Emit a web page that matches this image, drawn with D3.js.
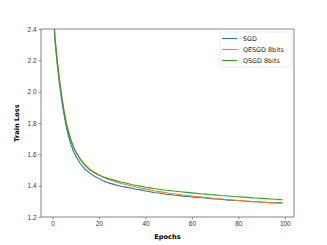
<!DOCTYPE html>
<html>
<head>
<meta charset="utf-8">
<script src="https://cdn.jsdelivr.net/npm/d3@7"></script>
<style>
  body { margin: 0; background: #fff; }
  svg { font-family: "DejaVu Sans", sans-serif; }
</style>
</head>
<body>
<div id="chart"></div>
<script>
// epochs sampled from the curves
const epochs = [0, 1, 2, 3, 4, 5, 6, 7, 8, 9, 10, 12, 14, 16, 18, 20, 22, 24, 26, 28, 30,
  32, 34, 36, 38, 40, 42, 44, 46, 48, 50, 52, 54, 56, 58, 60, 62, 64, 66, 68, 70,
  72, 74, 76, 78, 80, 82, 84, 86, 88, 90, 92, 94, 96, 98, 99];

const sgd = [2.66, 2.34, 2.18, 2.05, 1.94, 1.85, 1.77, 1.71, 1.66, 1.62, 1.59, 1.54, 1.505, 1.48, 1.46, 1.445, 1.43, 1.418, 1.41, 1.401, 1.395,
  1.389, 1.384, 1.377, 1.373, 1.366, 1.361, 1.355, 1.353, 1.347, 1.344, 1.34, 1.337, 1.333, 1.331, 1.328, 1.325, 1.323, 1.321, 1.317, 1.315,
  1.313, 1.311, 1.308, 1.306, 1.305, 1.302, 1.3, 1.298, 1.297, 1.295, 1.294, 1.292, 1.291, 1.29, 1.289];

const qesgd = [2.68, 2.36, 2.21, 2.08, 1.97, 1.88, 1.8, 1.745, 1.69, 1.652, 1.62, 1.572, 1.535, 1.506, 1.486, 1.468, 1.453, 1.44, 1.431, 1.42, 1.412,
  1.406, 1.398, 1.391, 1.385, 1.378, 1.373, 1.366, 1.362, 1.357, 1.352, 1.348, 1.345, 1.34, 1.337, 1.333, 1.33, 1.327, 1.324, 1.321, 1.318,
  1.316, 1.313, 1.311, 1.308, 1.305, 1.303, 1.301, 1.299, 1.297, 1.295, 1.293, 1.291, 1.289, 1.287, 1.286];

const qsgd = [2.67, 2.35, 2.2, 2.07, 1.96, 1.87, 1.79, 1.735, 1.685, 1.646, 1.615, 1.566, 1.53, 1.501, 1.483, 1.468, 1.456, 1.445, 1.437, 1.429, 1.42,
  1.416, 1.408, 1.401, 1.397, 1.39, 1.386, 1.38, 1.377, 1.372, 1.37, 1.366, 1.363, 1.36, 1.357, 1.354, 1.351, 1.348, 1.346, 1.342, 1.341,
  1.337, 1.336, 1.334, 1.331, 1.329, 1.327, 1.325, 1.322, 1.321, 1.319, 1.317, 1.315, 1.313, 1.311, 1.31];

const seriesNames = ["SGD", "QESGD 8bits", "QSGD 8bits"];
const colors = ["#1f77b4", "#ff7f0e", "#2ca02c"];
const xTicks = [0, 20, 40, 60, 80, 100];
const yTicks = [1.2, 1.4, 1.6, 1.8, 2.0, 2.2, 2.4];

const width = 327, height = 245;
const margin = { top: 29, right: 33, bottom: 28, left: 41 };

const svg = d3.select("#chart").append("svg")
  .attr("width", width)
  .attr("height", height);

const x = d3.scaleLinear()
  .domain([-4.95, 103.95])
  .range([margin.left, width - margin.right]);

const y = d3.scaleLinear()
  .domain([1.2, 2.4])
  .range([height - margin.bottom, margin.top]);

svg.append("clipPath").attr("id", "plot-clip")
  .append("rect")
  .attr("x", margin.left)
  .attr("y", margin.top)
  .attr("width", width - margin.left - margin.right)
  .attr("height", height - margin.top - margin.bottom);

const line = d3.line()
  .x((d, i) => x(epochs[i]))
  .y(d => y(d));

const plot = svg.append("g").attr("clip-path", "url(#plot-clip)");
[sgd, qesgd, qsgd].forEach((s, i) => {
  plot.append("path")
    .datum(s)
    .attr("fill", "none")
    .attr("stroke", colors[i])
    .attr("stroke-width", 1.1)
    .attr("stroke-linejoin", "round")
    .attr("d", line);
});

// axes
const xAxis = svg.append("g")
  .attr("transform", `translate(0,${height - margin.bottom})`)
  .call(d3.axisBottom(x).tickValues(xTicks).tickSize(2.5).tickPadding(2).tickFormat(d3.format("d")));

const yAxis = svg.append("g")
  .attr("transform", `translate(${margin.left},0)`)
  .call(d3.axisLeft(y).tickValues(yTicks).tickSize(2.5).tickPadding(2).tickFormat(d3.format(".1f")));

[xAxis, yAxis].forEach(a => {
  a.select(".domain").remove();
  a.selectAll(".tick line").attr("stroke", "#333").attr("stroke-width", 0.5);
  a.selectAll(".tick text").attr("fill", "#333").style("font-size", "6.4px");
});

// frame
svg.append("rect")
  .attr("x", margin.left)
  .attr("y", margin.top)
  .attr("width", width - margin.left - margin.right)
  .attr("height", height - margin.top - margin.bottom)
  .attr("fill", "none")
  .attr("stroke", "#333")
  .attr("stroke-width", 0.6);

// labels
svg.append("text")
  .attr("x", (margin.left + width - margin.right) / 2)
  .attr("y", 238.5)
  .attr("text-anchor", "middle")
  .style("font-size", "6.6px")
  .style("font-weight", "bold")
  .text("Epochs");

svg.append("text")
  .attr("transform", `translate(19,${(margin.top + height - margin.bottom) / 2}) rotate(-90)`)
  .attr("text-anchor", "middle")
  .style("font-size", "6.6px")
  .style("font-weight", "bold")
  .text("Train Loss");

// legend
const legend = svg.append("g").attr("transform", "translate(220,32)");
legend.append("rect")
  .attr("width", 72)
  .attr("height", 35)
  .attr("rx", 1.5)
  .attr("fill", "#fff")
  .attr("fill-opacity", 0.8)
  .attr("stroke", "#ddd")
  .attr("stroke-width", 0.6);

seriesNames.forEach((name, i) => {
  const g = legend.append("g").attr("transform", `translate(0,${6.5 + i * 11})`);
  g.append("line")
    .attr("x1", 2).attr("x2", 17)
    .attr("stroke", colors[i])
    .attr("stroke-width", 1.1);
  g.append("text")
    .attr("x", 23)
    .attr("y", 2.2)
    .attr("fill", "#222")
    .style("font-size", "6.4px")
    .text(name);
});
</script>
</body>
</html>
